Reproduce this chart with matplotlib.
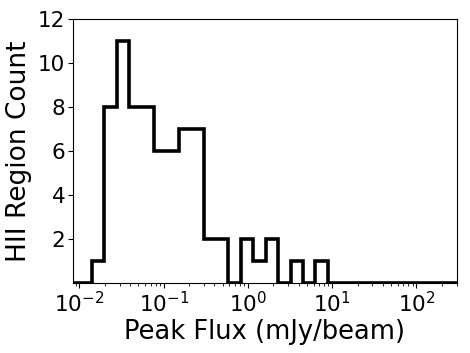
import numpy as np
import matplotlib
matplotlib.use("Agg")
import matplotlib.pyplot as plt

# Histogram counts per log-spaced bin (first edge ~10^-2.15, width ~0.1474 dex)
counts = [0, 0, 1, 8, 11, 8, 8, 6, 6, 7, 7, 2, 2, 0, 2, 1, 2, 0, 1, 0, 1,
          0, 0, 0, 0, 0, 0, 0, 0, 0, 0, 0, 0]
log_start = -2.1474
log_width = 0.1474
edges = 10 ** (log_start + log_width * np.arange(len(counts) + 1))

xlabel = "Peak Flux (mJy/beam)"
ylabel = "HII Region Count"
yticks = [2, 4, 6, 8, 10, 12]

fig = plt.figure(figsize=(4.70, 3.53), dpi=100)
ax = fig.add_axes([0.155, 0.197, 0.817, 0.749])
ax.hist(edges[:-1], bins=edges, weights=counts, histtype="step",
        color="black", linewidth=2.6)
ax.set_xscale("log")
ax.set_xlim(10 ** -2.078, 10 ** 2.479)
ax.set_ylim(0, 12)
ax.set_yticks(yticks)
ax.tick_params(labelsize=15.5, pad=2)
ax.set_xlabel(xlabel, fontsize=18.5, labelpad=2)
ax.set_ylabel(ylabel, fontsize=19, labelpad=4)
for s in ax.spines.values():
    s.set_linewidth(0.8)
fig.savefig("out.png", dpi=100)
